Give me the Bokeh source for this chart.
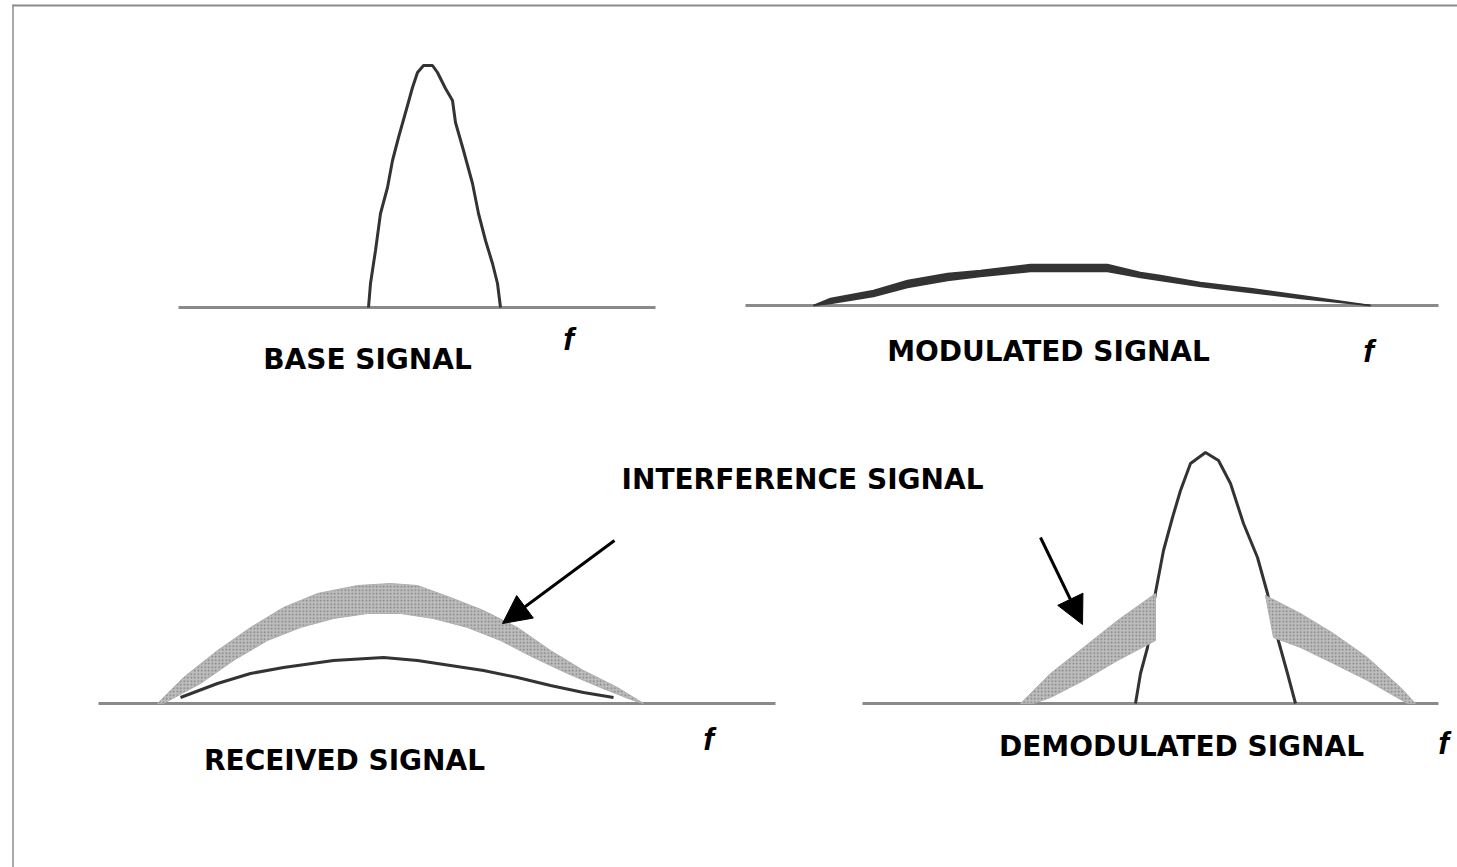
from bokeh.plotting import figure
from bokeh.models import Range1d, Arrow, NormalHead
from bokeh.core.properties import value
from bokeh.embed import file_html
from bokeh.resources import INLINE

# ---------------- data (frequency offset f, amplitude a, per panel) ----------------
# BASE SIGNAL spectrum
base_f = [190, 192, 197, 202, 209, 214, 220, 229, 234, 239, 245, 254, 259, 267, 274, 277, 285, 294, 300, 307, 314, 319, 322]
base_a = [0, 24, 57, 94, 120, 147, 170, 202, 220, 235, 242, 242, 235, 219, 207, 185, 157, 124, 94, 67, 44, 24, 0]

# MODULATED SIGNAL spectrum (thick band: upper / lower edge)
mod_f = [68, 85, 128, 162, 202, 235, 285, 315, 362, 395, 415, 455, 505, 555, 625]
mod_a_top = [0, 7, 15, 25, 32, 35, 41, 41, 41, 33, 30, 23, 17, 10, 0]
mod_a_bot = [0, 2, 9, 18, 25, 29, 34, 34, 34, 28, 25, 19, 13, 7, 0]

# RECEIVED SIGNAL: interference band (outer / inner edge) and received curve
rx_band_out_f = [59, 85, 119, 152, 185, 219, 259, 292, 319, 352, 385, 419, 452, 485, 519, 545]
rx_band_out_a = [0, 26, 53, 76, 96, 110, 118, 120, 118, 106, 93, 76, 53, 33, 16, 0]
rx_band_in_f = [65, 102, 135, 169, 202, 235, 269, 302, 335, 369, 402, 435, 469, 502, 535, 545]
rx_band_in_a = [0, 20, 43, 63, 76, 85, 90, 90, 85, 76, 63, 46, 30, 16, 3, 0]
rx_f = [82, 119, 152, 185, 235, 285, 319, 352, 385, 419, 452, 485, 515]
rx_a = [6, 20, 30, 36, 43, 46, 43, 38, 33, 26, 18, 11, 6]

# DEMODULATED SIGNAL: recovered curve and the two interference wings
dm_f = [273, 278, 285, 293, 301, 310, 318, 328, 343, 356, 368, 381, 395, 405, 415, 425, 433]
dm_a = [0, 30, 56, 111, 153, 186, 213, 240, 251, 243, 220, 180, 146, 110, 66, 30, 0]
dm_wl_f = [158, 188, 221, 255, 293, 293, 255, 221, 188, 171]
dm_wl_a = [0, 30, 56, 83, 110, 63, 43, 23, 6, 0]
dm_wr_f = [403, 438, 471, 505, 538, 553, 545, 505, 471, 438, 411]
dm_wr_a = [108, 90, 70, 46, 16, 0, 0, 23, 40, 56, 66]

titles = ["BASE SIGNAL", "MODULATED SIGNAL", "RECEIVED SIGNAL", "DEMODULATED SIGNAL"]
interference_label = "INTERFERENCE SIGNAL"
axis_label = "f"

# ---------------- layout (screen-pixel coordinates) ----------------
# panel origin (start of baseline x, baseline y) and baseline length
panels = {
    "base": (178, 307, 477),
    "mod": (745, 305, 693),
    "rx": (98, 703, 677),
    "dm": (862, 703, 576),
}
title_pos = [(367, 359), (1048, 351), (344, 760), (1181, 746)]
f_pos = [(568, 338), (1368, 350), (708, 738), (1443, 742)]
interf_pos = (802, 479)
arrows = [((614, 540), (502, 623)), ((1040, 537), (1082, 624))]


def place(key, f, a):
    x0, y0, _ = panels[key]
    return [x0 + v for v in f], [y0 - v for v in a]


W, H = 1457, 867
p = figure(width=W, height=H,
           x_range=Range1d(0, W), y_range=Range1d(H, 0),
           output_backend="svg", toolbar_location=None,
           x_axis_location=None, y_axis_location=None, min_border=0)
p.grid.visible = False
p.outline_line_color = None
p.background_fill_color = "white"
p.border_fill_color = "white"

# frame lines of the original picture
p.segment(x0=[12], y0=[5], x1=[W], y1=[5], line_color="#8c8c8c", line_width=2)
p.segment(x0=[12.5], y0=[4], x1=[12.5], y1=[H], line_color="#8c8c8c", line_width=1.5)

# baselines
for key in panels:
    x0, y0, L = panels[key]
    p.segment(x0=[x0], y0=[y0], x1=[x0 + L], y1=[y0], line_color="#8a8a8a", line_width=3)

curve_color = "#333333"
band_kw = dict(fill_color="#bdbdbd", line_color="#b0b0b0", line_width=1,
               hatch_pattern="dot", hatch_scale=3.5, hatch_color="#7d7d7d", hatch_weight=1)

# base signal
bx, by = place("base", base_f, base_a)
p.line(bx, by, line_color=curve_color, line_width=3)

# modulated signal (thick dark band)
mx, my_top = place("mod", mod_f, mod_a_top)
_, my_bot = place("mod", mod_f, mod_a_bot)
p.varea(x=mx, y1=my_top, y2=my_bot, fill_color=curve_color)
p.line(mx, my_top, line_color=curve_color, line_width=1.5)
p.line(mx, my_bot, line_color=curve_color, line_width=1.5)

# received signal
rx, ry = place("rx", rx_f, rx_a)
p.line(rx, ry, line_color=curve_color, line_width=3)
ox, oy = place("rx", rx_band_out_f, rx_band_out_a)
ix, iy = place("rx", rx_band_in_f, rx_band_in_a)
p.patch(ox + ix[::-1], oy + iy[::-1], **band_kw)

# demodulated signal
dx, dy = place("dm", dm_f, dm_a)
p.line(dx, dy, line_color=curve_color, line_width=3)
lx, ly = place("dm", dm_wl_f, dm_wl_a)
p.patch(lx, ly, **band_kw)
rwx, rwy = place("dm", dm_wr_f, dm_wr_a)
p.patch(rwx, rwy, **band_kw)

# arrows
for (s, e) in arrows:
    p.add_layout(Arrow(end=NormalHead(size=28, fill_color="black", line_color="black"),
                       x_start=s[0], y_start=s[1], x_end=e[0], y_end=e[1],
                       line_color="black", line_width=3))

# texts
p.text(x=[t[0] for t in title_pos], y=[t[1] for t in title_pos], text=titles,
       text_font=value("DejaVu Sans"), text_font_style="bold", text_font_size="28px",
       text_align="center", text_baseline="middle", text_color="black")
p.text(x=[interf_pos[0]], y=[interf_pos[1]], text=[interference_label],
       text_font=value("DejaVu Sans"), text_font_style="bold", text_font_size="28px",
       text_align="center", text_baseline="middle", text_color="black")
p.text(x=[t[0] for t in f_pos], y=[t[1] for t in f_pos], text=[axis_label] * len(f_pos),
       text_font=value("Liberation Sans"), text_font_style="bold italic", text_font_size="32px",
       text_align="center", text_baseline="middle", text_color="black")

open("out.html", "w").write(file_html(p, INLINE))
